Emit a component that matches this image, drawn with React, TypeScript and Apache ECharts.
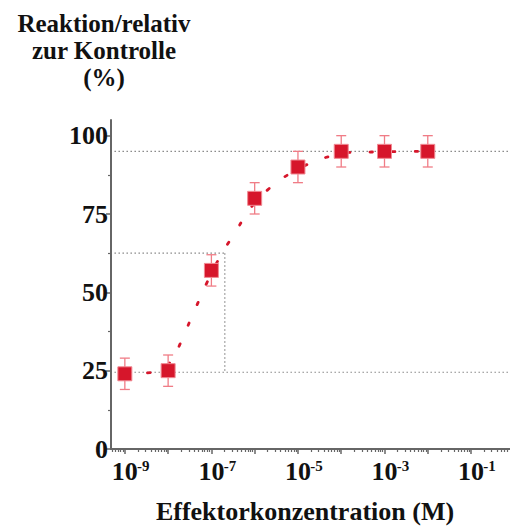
import React, { useEffect, useRef } from "react";
import * as echarts from "echarts";

// ---- data ----
const concentrations = [1e-9, 1e-8, 1e-7, 1e-6, 1e-5, 1e-4, 1e-3, 1e-2];
const responses = [24, 25, 57, 80, 90, 95, 95, 95];
const errors = [5, 5, 5, 5, 5, 5, 5, 5];

// fitted curve (log10 concentration, response)
const curveLogX = [-9.0, -8.5, -8.0, -7.7, -7.5, -7.3, -7.1, -6.9, -6.7, -6.4, -6.1, -5.7, -5.2, -4.7, -4.2, -3.7, -3.2, -2.7, -2.0];
const curveY = [24.1, 24.3, 27.0, 34.2, 40.7, 47.0, 53.2, 58.8, 63.7, 70.3, 76.8, 82.7, 87.8, 91.3, 93.6, 94.7, 94.8, 94.9, 95.0];

// reference levels
const topLevel = 95;
const bottomLevel = 24.5;
const halfLevel = 62.5;
const ec50Log = -6.69;

// axes
const xMin = -9.32;
const xMax = -0.1;
const xMajorTicks = [-9, -8, -7, -6, -5, -4, -3, -2, -1];
const xLabelTicks = [-9, -7, -5, -3, -1];
const yMin = 0;
const yMax = 105;
const yTicks = [0, 25, 50, 75, 100];
const yMinorTicks = [12.5, 37.5, 62.5, 87.5];
const titleLines = ["Reaktion/relativ", "zur Kontrolle", "(%)"];
const xTitle = "Effektorkonzentration (M)";

const FONT = "'Liberation Serif', 'Times New Roman', serif";
const RED = "#d6162b";
const AXIS = "#666";

function minorLogTicks(): number[] {
  const out: number[] = [];
  for (let d = -10; d <= 0; d++) {
    for (let k = 2; k <= 9; k++) {
      const v = d + Math.log10(k);
      if (v > xMin && v < xMax) out.push(v);
    }
  }
  return out;
}

export default function App() {
  const ref = useRef<HTMLDivElement>(null);
  useEffect(() => {
    if (!ref.current) return;
    const chart = echarts.init(ref.current, undefined, { renderer: "svg" });
    const logX = concentrations.map((c) => Math.log10(c));
    const points = logX.map((x, i) => [x, responses[i]]);
    const errData = logX.map((x, i) => [x, responses[i] - errors[i], responses[i] + errors[i]]);
    const refStyle = { color: "#888", width: 1.2, type: [1.5, 2.5] as any };
    const refLine = (data: number[][]) => ({
      type: "line",
      data,
      symbol: "none",
      silent: true,
      lineStyle: refStyle,
      z: 1,
    });
    const option: any = {
      animation: false,
      grid: { left: 111, right: 0, top: 120, bottom: 78 },
      graphic: [
        ...titleLines.map((t, i) => ({
          type: "text",
          x: 104,
          y: 23.5 + i * 27,
          style: {
            text: t,
            font: `bold 25px ${FONT}`,
            fill: "#111",
            textAlign: "center",
            textVerticalAlign: "middle",
          },
        })),
        {
          type: "text",
          x: 305,
          y: 511,
          style: {
            text: xTitle,
            font: `bold 26px ${FONT}`,
            fill: "#111",
            textAlign: "center",
            textVerticalAlign: "middle",
          },
        },
      ],
      xAxis: [
        {
          type: "value",
          min: xMin,
          max: xMax,
          axisLine: { show: true, onZero: false, lineStyle: { color: AXIS, width: 2 } },
          axisTick: { show: true, customValues: xMajorTicks, length: 5, lineStyle: { color: AXIS, width: 1.5 } },
          axisLabel: {
            customValues: xLabelTicks,
            margin: 9,
            formatter: (v: number) => `{p|}{b|10}{s|${Math.round(v)}}`,
            rich: {
              p: { width: 11 },
              b: { fontSize: 26, fontWeight: "bold", fontFamily: FONT, color: "#111" },
              s: { fontSize: 15, fontWeight: "bold", fontFamily: FONT, color: "#111", verticalAlign: "top", width: 11 },
            },
          },
          splitLine: { show: false },
        },
        {
          type: "value",
          min: xMin,
          max: xMax,
          position: "bottom",
          axisLine: { show: false },
          axisTick: { show: true, customValues: minorLogTicks(), length: 3, lineStyle: { color: AXIS, width: 1.2 } },
          axisLabel: { show: false },
          splitLine: { show: false },
        },
      ],
      yAxis: [
        {
          type: "value",
          min: yMin,
          max: yMax,
          axisLine: { show: true, onZero: false, lineStyle: { color: AXIS, width: 2 } },
          axisTick: { show: true, customValues: yTicks, length: 5, lineStyle: { color: AXIS, width: 1.5 } },
          axisLabel: {
            customValues: yTicks,
            margin: 3,
            fontSize: 26,
            fontWeight: "bold",
            fontFamily: FONT,
            color: "#111",
          },
          splitLine: { show: false },
        },
        {
          type: "value",
          min: yMin,
          max: yMax,
          position: "left",
          axisLine: { show: false },
          axisTick: { show: true, customValues: yMinorTicks, length: 3, lineStyle: { color: AXIS, width: 1.2 } },
          axisLabel: { show: false },
          splitLine: { show: false },
        },
      ],
      series: [
        refLine([[xMin + 0.08, topLevel], [xMax, topLevel]]),
        refLine([[xMin + 0.08, bottomLevel], [xMax, bottomLevel]]),
        refLine([[xMin + 0.08, halfLevel], [ec50Log, halfLevel]]),
        refLine([[ec50Log, halfLevel], [ec50Log, bottomLevel]]),
        {
          type: "line",
          data: curveLogX.map((x, i) => [x, curveY[i]]),
          symbol: "none",
          smooth: true,
          silent: true,
          lineStyle: { color: RED, width: 2.8, type: [2.5, 20], cap: "round" },
          z: 2,
        },
        {
          type: "custom",
          data: errData,
          z: 3,
          silent: true,
          renderItem: (params: any, api: any) => {
            const x = api.value(0);
            const lo = api.coord([x, api.value(1)]);
            const hi = api.coord([x, api.value(2)]);
            const half = 5;
            const style = { stroke: "#f07c86", lineWidth: 1.3 };
            return {
              type: "group",
              children: [
                { type: "line", shape: { x1: lo[0], y1: lo[1], x2: hi[0], y2: hi[1] }, style },
                { type: "line", shape: { x1: lo[0] - half, y1: lo[1], x2: lo[0] + half, y2: lo[1] }, style },
                { type: "line", shape: { x1: hi[0] - half, y1: hi[1], x2: hi[0] + half, y2: hi[1] }, style },
              ],
            };
          },
        },
        {
          type: "scatter",
          data: points,
          symbol: "rect",
          symbolSize: 14,
          z: 4,
          itemStyle: { color: RED, borderColor: "#f08a93", borderWidth: 1, opacity: 1 },
        },
      ],
    };
    chart.setOption(option);
    return () => chart.dispose();
  }, []);
  return <div ref={ref} style={{ position: "fixed", left: 0, top: 0, width: 510, height: 527, background: "#fff" }} />;
}
